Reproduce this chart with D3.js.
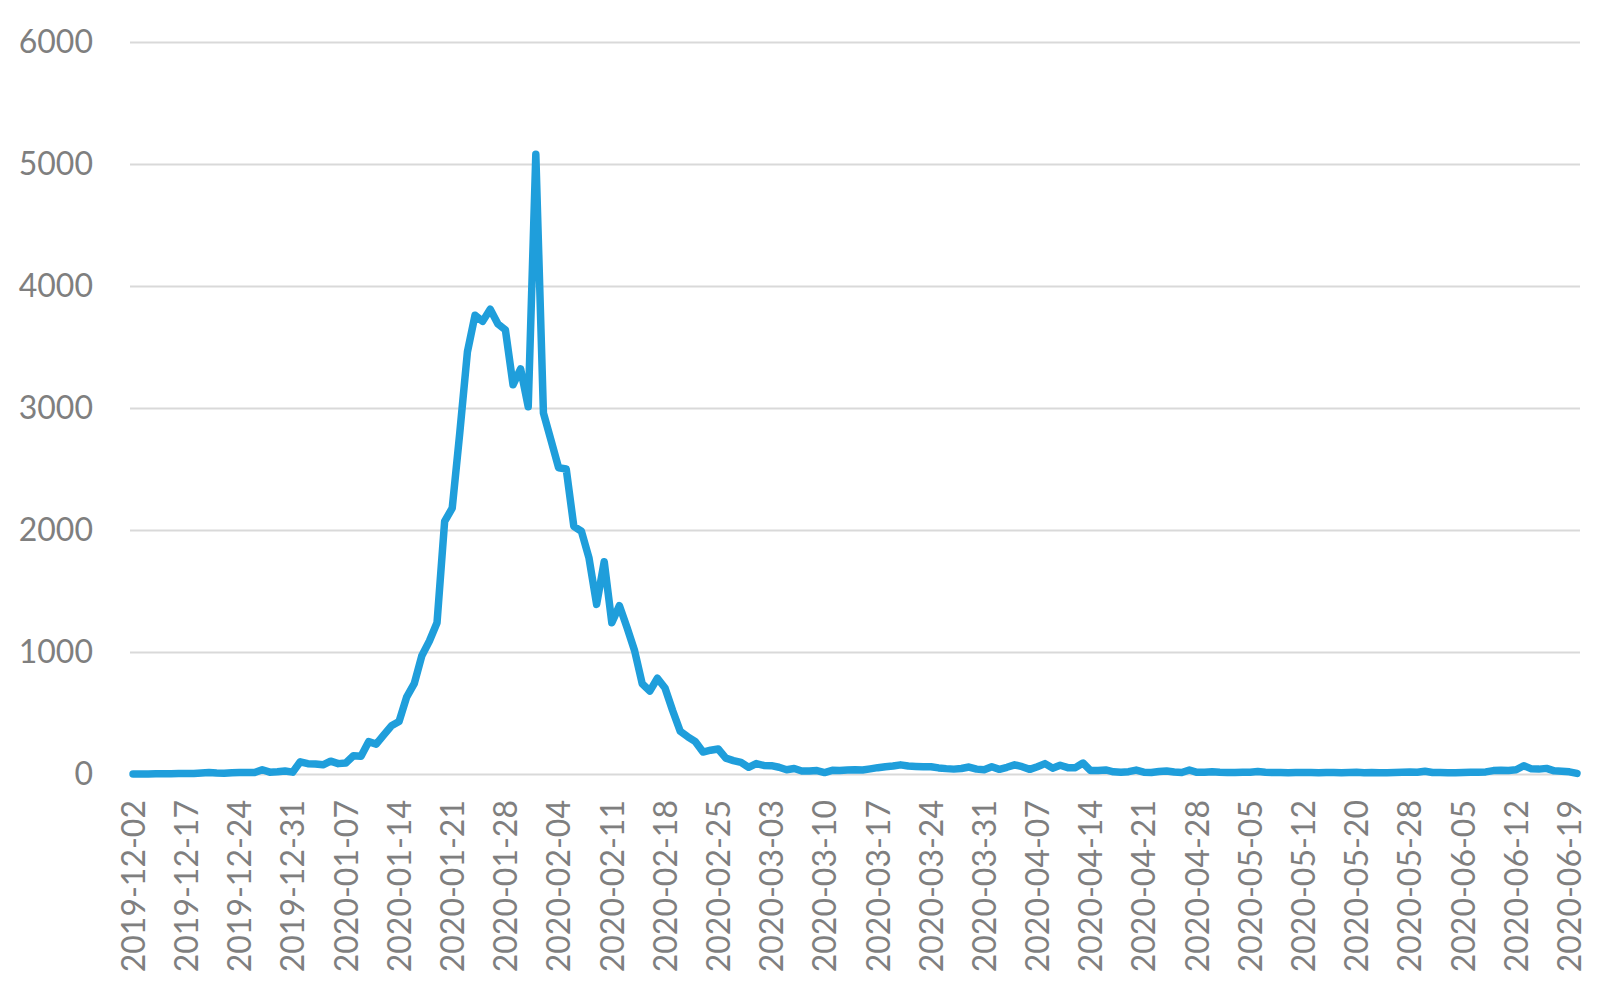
<!DOCTYPE html>
<html>
<head>
<meta charset="utf-8">
<script src="https://cdn.jsdelivr.net/npm/d3@7"></script>
<style>
  html, body { margin: 0; padding: 0; background: #ffffff; }
  svg { display: block; }
</style>
</head>
<body>
<svg id="chart" width="1604" height="996"></svg>
<script>
// ---- data ----
const values = [
  0,0,1,2,2,3,5,5,4,8,12,8,6,10,12,12,12,35,15,18,25,15,
  100,85,82,75,105,85,90,150,145,265,245,320,395,430,630,740,970,1090,1240,2070,
  2180,2800,3460,3760,3710,3810,3690,3640,3190,3320,3010,5080,
  2960,2735,2510,2500,2030,1990,1770,1390,1740,1240,1380,1200,1010,740,680,785,705,520,350,305,
  265,180,195,205,130,110,95,
  55,85,70,68,55,35,45,25,24,28,
  12,30,28,32,35,33,42,52,60,65,
  75,65,62,60,60,50,44,40,45,57,
  40,35,60,38,55,75,60,38,60,85,
  48,72,52,52,90,28,28,33,18,14,
  19,32,15,12,20,25,16,12,33,14,
  15,19,14,12,12,14,15,20,14,12,
  12,11,12,12,12,11,13,12,10,12,
  14,10,12,10,11,12,14,16,14,22,
  12,12,11,10,12,14,15,17,28,30,
  28,35,68,42,40,46,26,22,18,5
];
const tickLabels = [
  "2019-12-02","2019-12-17","2019-12-24","2019-12-31","2020-01-07","2020-01-14","2020-01-21",
  "2020-01-28","2020-02-04","2020-02-11","2020-02-18","2020-02-25","2020-03-03","2020-03-10",
  "2020-03-17","2020-03-24","2020-03-31","2020-04-07","2020-04-14","2020-04-21","2020-04-28",
  "2020-05-05","2020-05-12","2020-05-20","2020-05-28","2020-06-05","2020-06-12","2020-06-19"
];
const labelEvery = 7;
const yTicks = [0, 1000, 2000, 3000, 4000, 5000, 6000];

// ---- layout ----
const categories = d3.range(values.length);
const tickIndex = tickLabels.map((d, i) => i * labelEvery);

const plotLeft = 130, plotRight = 1580, plotTop = 42, plotBottom = 774;
const svg = d3.select("#chart");

const x = d3.scalePoint().domain(categories).range([plotLeft, plotRight]).padding(0.4);
const y = d3.scaleLinear().domain([0, 6000]).range([plotBottom, plotTop]);

// y axis + gridlines
const yAxis = d3.axisLeft(y).tickValues(yTicks).tickFormat(d3.format("d"))
  .tickSize(-(plotRight - plotLeft)).tickPadding(37);
const gy = svg.append("g").attr("transform", `translate(${plotLeft},0)`).call(yAxis);
gy.select(".domain").remove();
gy.selectAll(".tick line").attr("stroke", "#d9d9d9").attr("stroke-width", 2);
gy.selectAll(".tick text")
  .attr("fill", "#7f7f7f")
  .style("font-family", "Lato, 'Open Sans', sans-serif")
  .style("font-size", "32px");

// x axis labels
const xAxis = d3.axisBottom(x).tickValues(tickIndex)
  .tickFormat(d => tickLabels[d / labelEvery]).tickSize(0).tickPadding(0);
const gx = svg.append("g").attr("transform", `translate(0,${plotBottom})`).call(xAxis);
gx.select(".domain").remove();
gx.selectAll(".tick text")
  .attr("fill", "#7f7f7f")
  .style("font-family", "Lato, 'Open Sans', sans-serif")
  .style("font-size", "32px")
  .attr("text-anchor", "end")
  .attr("dy", "0.35em")
  .attr("transform", "translate(0,26) rotate(-90)")
  .attr("x", 0).attr("y", 0);

// line
const line = d3.line().x((d, i) => x(i)).y(d => y(d));
svg.append("path")
  .datum(values)
  .attr("d", line)
  .attr("fill", "none")
  .attr("stroke", "#1f9edb")
  .attr("stroke-width", 7.5)
  .attr("stroke-linejoin", "round")
  .attr("stroke-linecap", "round");
</script>
</body>
</html>
